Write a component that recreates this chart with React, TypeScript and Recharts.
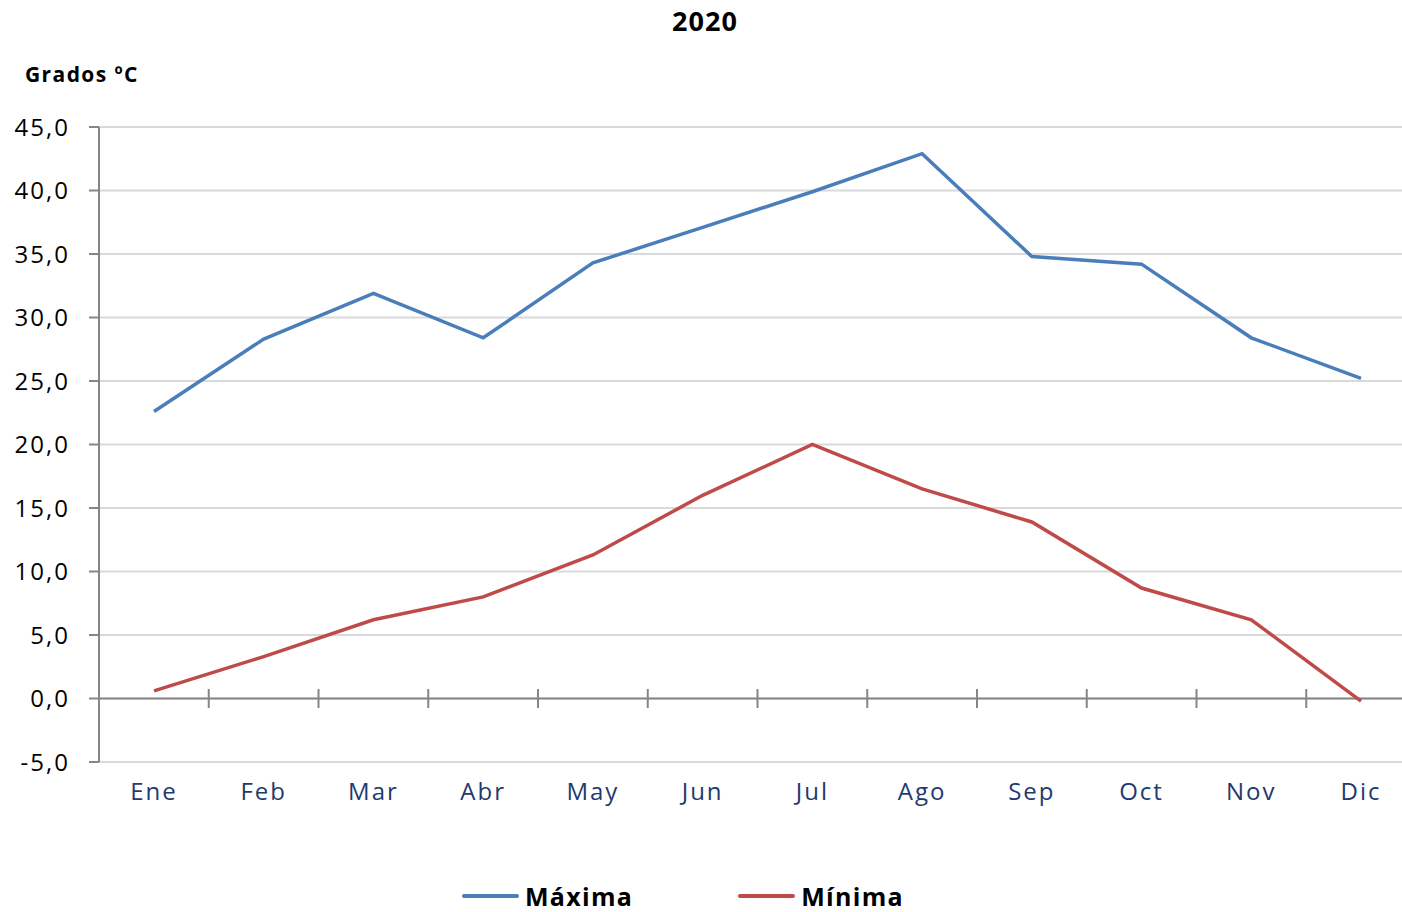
import React from 'react';
import { LineChart, Line, XAxis, YAxis, CartesianGrid, ReferenceLine } from 'recharts';

const months = ['Ene', 'Feb', 'Mar', 'Abr', 'May', 'Jun', 'Jul', 'Ago', 'Sep', 'Oct', 'Nov', 'Dic'];
const maxima = [22.6, 28.3, 31.9, 28.4, 34.3, 37.1, 39.9, 42.9, 34.8, 34.2, 28.4, 25.2];
const minima = [0.6, 3.3, 6.2, 8.0, 11.3, 16.0, 20.0, 16.5, 13.9, 8.7, 6.2, -0.2];
const yTicks = [-5, 0, 5, 10, 15, 20, 25, 30, 35, 40, 45];
// boundaries between months, where the zero axis carries its tick marks
const boundaries = [0.5, 1.5, 2.5, 3.5, 4.5, 5.5, 6.5, 7.5, 8.5, 9.5, 10.5];

const series = [
  { key: 'maxima', name: 'Máxima', color: '#4A7EBB' },
  { key: 'minima', name: 'Mínima', color: '#BE4B48' },
];

const data = months.map((m, i) => ({ mes: m, pos: i, maxima: maxima[i], minima: minima[i] }));

const font = '"Open Sans", "Noto Sans", sans-serif';
const axisGray = '#868686';

const fmt = (v: number) => v.toFixed(1).replace('.', ',');

export default function App() {
  return (
    <div style={{ position: 'absolute', left: 0, top: 0, width: 1402, height: 912, overflow: 'hidden', background: '#fff', fontFamily: font }}>
      <div style={{ position: 'absolute', left: 0, width: 1410, top: 3, textAlign: 'center', fontSize: 27, fontWeight: 700, lineHeight: '36px', letterSpacing: 1 }}>
        2020
      </div>
      <div style={{ position: 'absolute', left: 25, top: 59, fontSize: 21, fontWeight: 700, lineHeight: '30px', letterSpacing: 1.4 }}>
        Grados ºC
      </div>
      <LineChart width={1420} height={912} data={data} margin={{ top: 127, right: 4, left: 0, bottom: 90 }}>
        <CartesianGrid vertical={false} stroke="#D9D9D9" strokeWidth={2} />
        <XAxis
          dataKey="mes"
          padding={{ left: 55, right: 55 }}
          axisLine={false}
          tickLine={false}
          height={60}
          tickMargin={15}
          tick={{ fill: '#1F3A6E', fontSize: 24, fontFamily: font, letterSpacing: 2 }}
          interval={0}
        />
        <XAxis xAxisId="b" type="number" dataKey="pos" domain={[-0.5, 11.5]} hide allowDataOverflow />
        <YAxis
          domain={[-5, 45]}
          ticks={yTicks}
          width={99}
          tickSize={10}
          tickMargin={19}
          tickFormatter={fmt}
          axisLine={{ stroke: axisGray, strokeWidth: 2 }}
          tickLine={{ stroke: axisGray, strokeWidth: 2 }}
          tick={{ fill: '#000', fontSize: 24, fontFamily: font, letterSpacing: 2 }}
          interval={0}
        />
        <ReferenceLine y={0} stroke={axisGray} strokeWidth={2} />
        {boundaries.map((b) => (
          <ReferenceLine
            key={b}
            xAxisId="b"
            segment={[{ x: b, y: -0.75 }, { x: b, y: 0.75 }]}
            stroke={axisGray}
            strokeWidth={2}
          />
        ))}
        {series.map((s) => (
          <Line
            key={s.key}
            dataKey={s.key}
            name={s.name}
            stroke={s.color}
            strokeWidth={3.5}
            dot={false}
            activeDot={false}
            isAnimationActive={false}
          />
        ))}
      </LineChart>
      <div style={{ position: 'absolute', left: 462, top: 879, display: 'flex', gap: 105, fontSize: 25, fontWeight: 700, letterSpacing: 1.3 }}>
        {series.map((s) => (
          <div key={s.key} style={{ display: 'flex', alignItems: 'center' }}>
            <div style={{ width: 57, height: 4, background: s.color, borderRadius: 2, marginRight: 6 }} />
            <span>{s.name}</span>
          </div>
        ))}
      </div>
    </div>
  );
}
